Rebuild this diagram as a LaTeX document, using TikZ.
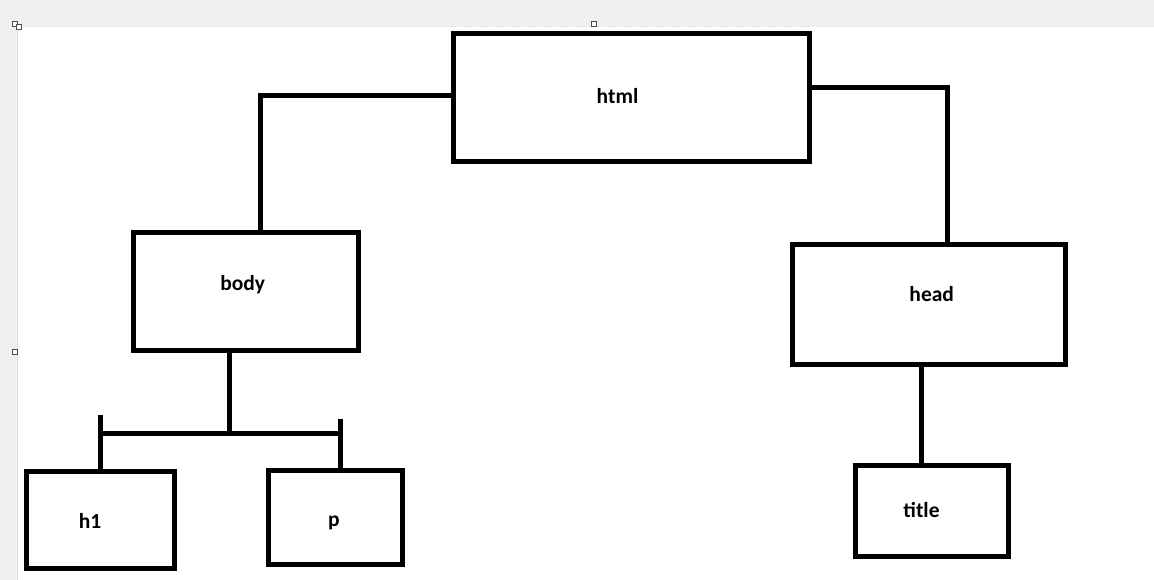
\documentclass[tikz,border=0pt]{standalone}
\usepackage{fontspec}
\setmainfont{Carlito}
\begin{document}
\begin{tikzpicture}[x=1pt,y=-1pt,
  box/.style={draw=black, line width=5pt, inner sep=0pt, fill=white},
  lbl/.style={font=\fontsize{21.5}{23}\selectfont\bfseries, inner sep=0pt, text=black},
  conn/.style={draw=black, line width=5pt},
  handle/.style={draw=black!70, line width=1pt, fill=white}]
% canvas
\useasboundingbox (0,0) rectangle (1154,580);
\fill[black!6] (0,0) rectangle (1154,580);
\fill[white] (17,27) rectangle (1154,580);
\draw[black!12, line width=1pt] (17,27) -- (17,580);
\draw[black!10, line width=1.5pt, dash pattern=on 8pt off 8pt] (17,26.5) -- (1154,26.5);
\draw[handle] (12.5,22) rectangle (17.5,27);
\draw[handle] (16,25) rectangle (21,30);
\draw[handle] (591.5,21.5) rectangle (596.5,26.5);
\draw[handle] (12.5,349) rectangle (17.5,354);
% boxes
\node[box, minimum width=356pt, minimum height=127.7pt] (html) at (631.5,97.2) {};
\node[box, minimum width=225pt, minimum height=118.3pt] (body) at (245.8,291.7) {};
\node[box, minimum width=272.8pt, minimum height=119.4pt] (head) at (928.9,304.5) {};
\node[box, minimum width=148.3pt, minimum height=96.7pt] (h1) at (100.7,520.2) {};
\node[box, minimum width=134pt, minimum height=93.4pt] (p) at (335.5,517.5) {};
\node[box, minimum width=153pt, minimum height=90.7pt] (title) at (931.7,511.2) {};
% labels
\node[lbl] (htmlt) at (617.5,96) {html};
\node[lbl] (bodyt) at (242.7,284.5) {body};
\node[lbl] (headt) at (931.7,294.5) {head};
\node[lbl] (h1t) at (90,520.5) {h1};
\node[lbl] (pt) at (334,523) {p};
\node[lbl] (titlet) at (921.5,510.5) {title};
% connectors
\draw[conn] ([yshift=1.2pt]html.west) -| ([xshift=15pt]body.north);
\draw[conn] ([yshift=9.2pt]html.east) -| ([xshift=18.4pt]head.north);
\coordinate (j) at (229,433.5);
\coordinate (jl) at (100.2,433.5);
\coordinate (jr) at (340.5,433.5);
\coordinate (tl) at (100.2,414.5);
\coordinate (tr) at (340.5,418.5);
\draw[conn] ([xshift=-16.8pt]body.south) -- (j);
\draw[conn] (jl) -- (jr);
\draw[conn] (tl) -- (tl |- h1.north);
\draw[conn] (tr) -- (tr |- p.north);
\draw[conn] ([xshift=-7.5pt]head.south) -- ([xshift=-7.5pt]head.south |- title.north);
\end{tikzpicture}
\end{document}
